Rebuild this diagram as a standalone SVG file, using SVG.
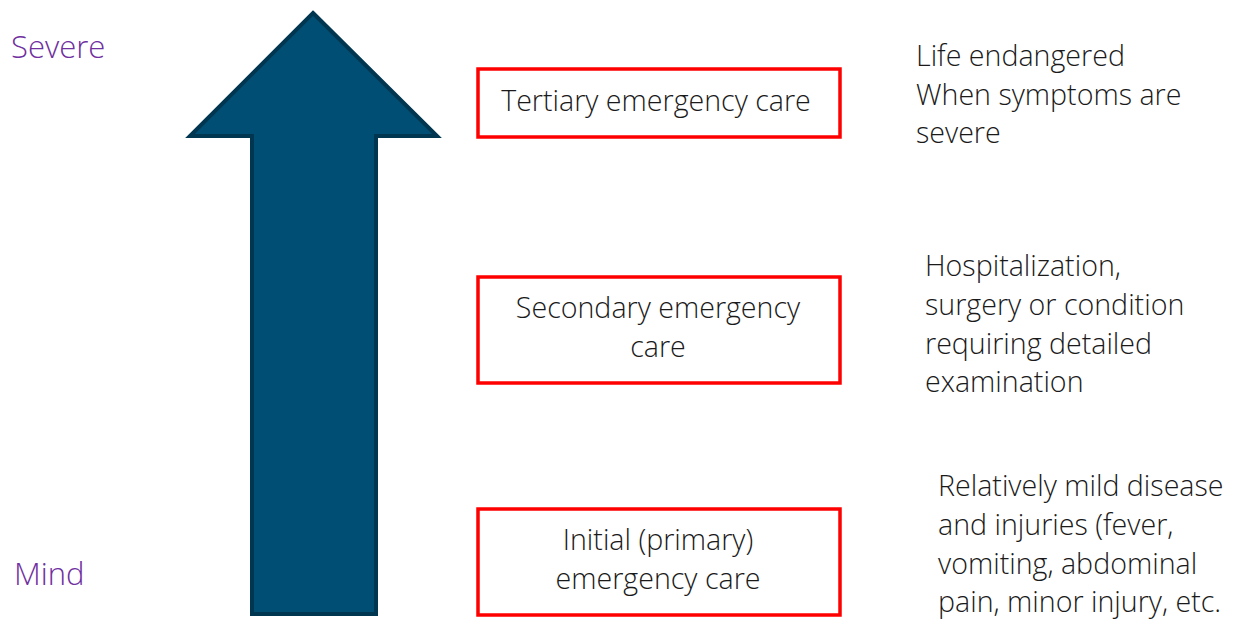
<svg xmlns="http://www.w3.org/2000/svg" width="1239" height="620" viewBox="0 0 1239 620">
<style>
text{font-family:"Open Sans","Noto Sans","Liberation Sans",sans-serif;font-size:28.6px;fill:#1a1a1a;font-weight:300}
.lbl{fill:#7030A0;font-size:31px}
.box{fill:#fff;stroke:#f00;stroke-width:3.5}
.c{text-anchor:middle}
</style>
<rect width="1239" height="620" fill="#fff"/>
<g id="arrow">
<path d="M313,13 L437,136 L376,136 L376,614 L252,614 L252,136 L190,136 Z" fill="#004E73" stroke="#003650" stroke-width="4" stroke-linejoin="miter"/>
</g>
<g id="severe"><text class="lbl" x="11" y="58">Severe</text></g>
<g id="mind"><text class="lbl" x="14" y="585">Mind</text></g>
<g id="tertiary">
<rect class="box" x="478" y="69" width="362" height="68"/>
<text class="c" x="656" y="111">Tertiary emergency care</text>
</g>
<g id="secondary">
<rect class="box" x="478" y="277" width="362" height="106"/>
<text class="c" x="658" y="318">Secondary emergency</text>
<text class="c" x="658" y="357">care</text>
</g>
<g id="primary">
<rect class="box" x="478" y="509" width="362" height="106"/>
<text class="c" x="658" y="550">Initial (primary)</text>
<text class="c" x="658" y="589">emergency care</text>
</g>
<g id="desc-tertiary">
<text x="916" y="66">Life endangered</text>
<text x="916" y="105">When symptoms are</text>
<text x="916" y="143">severe</text>
</g>
<g id="desc-secondary">
<text x="925" y="276">Hospitalization,</text>
<text x="925" y="315">surgery or condition</text>
<text x="925" y="354">requiring detailed</text>
<text x="925" y="392">examination</text>
</g>
<g id="desc-primary">
<text x="938" y="496">Relatively mild disease</text>
<text x="938" y="535">and injuries (fever,</text>
<text x="938" y="574">vomiting, abdominal</text>
<text x="938" y="612">pain, minor injury, etc.</text>
</g>
<g id="connectors"></g>
</svg>
